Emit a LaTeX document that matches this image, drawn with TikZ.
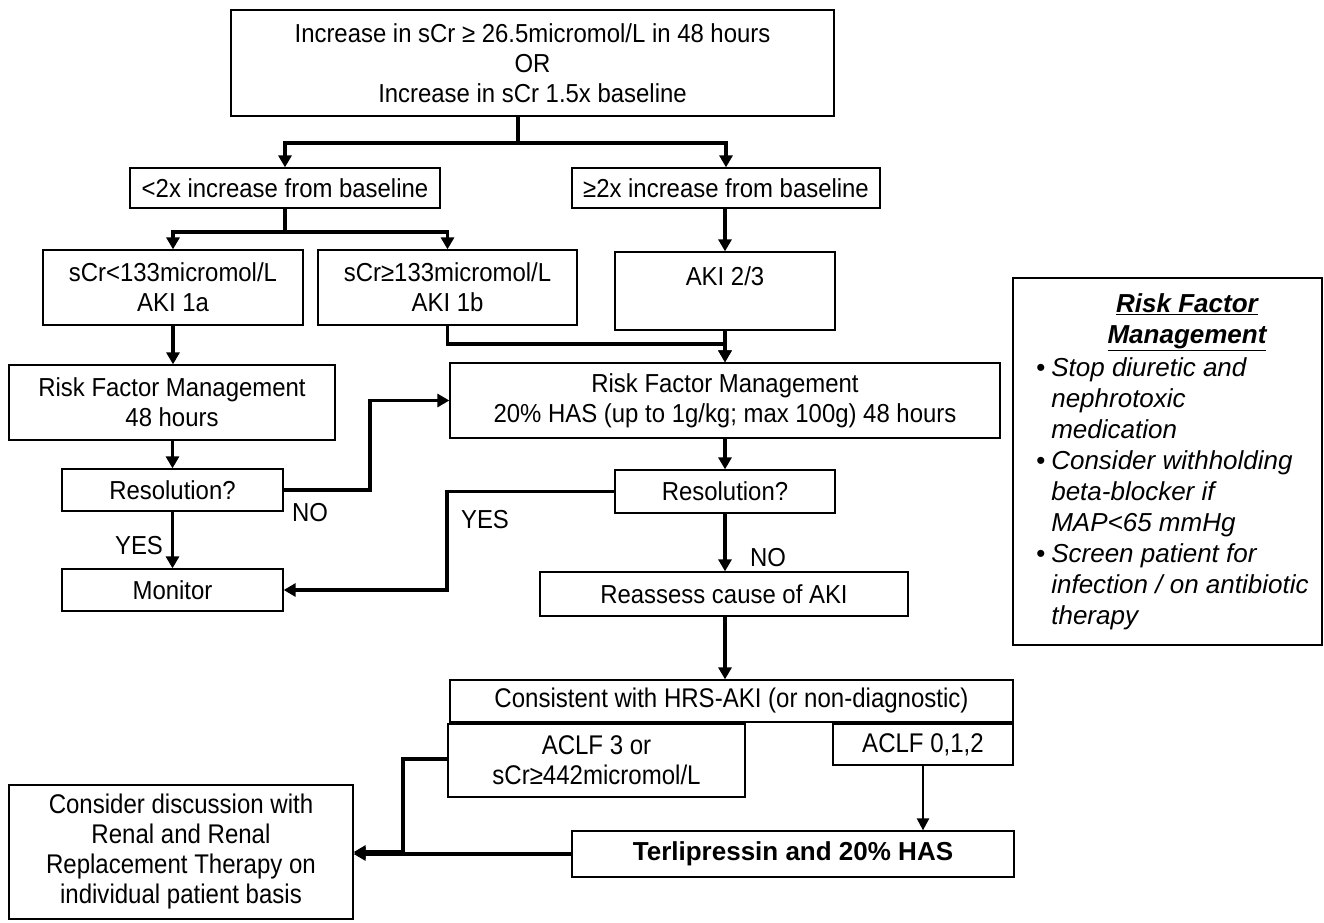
\documentclass[tikz,border=0pt]{standalone}
\usepackage{fontspec}
\setmainfont{Liberation Sans}
\newfontfamily\condf[FakeStretch=0.92]{Liberation Sans}
\newfontfamily\narrowf[FakeStretch=0.89]{Liberation Sans}
\usetikzlibrary{arrows.meta}
\begin{document}
\begin{tikzpicture}[x=1pt,y=-1pt,
 box/.style={draw, line width=1.3pt, inner sep=0pt, align=center, font=\condf\fontsize{26}{30}\selectfont},
 lowbox/.style={box, font=\narrowf\fontsize{27}{30}\selectfont},
 conn/.style={line width=3.5pt},
 arr/.style={line width=3.5pt, -{Triangle[length=12pt,width=13pt]}},
 thinarr/.style={line width=2.5pt, -{Triangle[length=12pt,width=12pt]}},
 lbl/.style={font=\condf\fontsize{26}{30}\selectfont, inner sep=0pt}]
\useasboundingbox (0,0) rectangle (1324,922);

\node[box, minimum width=603, minimum height=106] (top) at (532.5,63) {Increase in sCr ≥ 26.5micromol/L in 48 hours\\OR\\Increase in sCr 1.5x baseline};
\node[box, minimum width=310, minimum height=40] (lt2) at (285,188) {<2x increase from baseline};
\node[box, minimum width=308, minimum height=40] (ge2) at (726,188) {≥2x increase from baseline};
\node[box, minimum width=260, minimum height=75] (aki1a) at (173,287.5) {sCr<133micromol/L\\AKI 1a};
\node[box, minimum width=259, minimum height=75] (aki1b) at (447.5,287.5) {sCr≥133micromol/L\\AKI 1b};
\node[box, minimum width=220, minimum height=78] (aki23) at (725,291) {AKI 2/3\\~};
\node[box, minimum width=326, minimum height=75] (rfm1) at (172,402.5) {Risk Factor Management\\48 hours};
\node[box, minimum width=550, minimum height=75] (rfm2) at (725,400.5) {Risk Factor Management\\20\% HAS (up to 1g/kg; max 100g) 48 hours};
\node[box, minimum width=221, minimum height=42] (res1) at (172.5,490) {Resolution?};
\node[box, minimum width=221, minimum height=42] (mon) at (172.5,590) {Monitor};
\node[box, minimum width=220, minimum height=43] (res2) at (725,491.5) {Resolution?};
\node[box, minimum width=368, minimum height=44] (reas) at (724,594) {Reassess cause of AKI};
\node[lowbox, minimum width=563, minimum height=42] (hrs) at (731.5,701) {Consistent with HRS-AKI (or non-diagnostic)};
\node[lowbox, minimum width=297, minimum height=73] (aclf3) at (596.5,760.5) {ACLF 3 or\\sCr≥442micromol/L};
\node[lowbox, minimum width=180, minimum height=41] (aclf012) at (923,744.5) {ACLF 0,1,2};
\node[lowbox, minimum width=344, minimum height=134] (cons) at (181,852) {Consider discussion with\\Renal and Renal\\Replacement Therapy on\\individual patient basis};
\node[box, minimum width=442, minimum height=46, font=\rmfamily\fontsize{26}{30}\selectfont\bfseries] (terl) at (793,854) {Terlipressin and 20\% HAS};

\node[box, minimum width=309, minimum height=367] (rfbox) at (1167.5,461.5) {};
\node[font=\rmfamily\fontsize{26}{31}\selectfont\bfseries\itshape, align=center, inner sep=0pt] (rftitle) at (1187,322) {\underline{Risk Factor}\\\underline{Management}};
\node[font=\rmfamily\fontsize{26}{31}\selectfont\itshape, anchor=north west, inner sep=0pt] (rfbody) at (1036,355) {\begin{tabular}{@{}l@{\hspace{6pt}}l@{}}
\textbullet & Stop diuretic and\\
 & nephrotoxic\\
 & medication\\
\textbullet & Consider withholding\\
 & beta-blocker if\\
 & MAP<65 mmHg\\
\textbullet & Screen patient for\\
 & infection / on antibiotic\\
 & therapy
\end{tabular}};

\coordinate (j1) at (518,143);
\coordinate (j2) at (285,232);
\coordinate (j3) at (725,344);
\coordinate (c1) at (370,490);
\coordinate (c2) at (447,491.5);
\coordinate (c3) at (403,759);

\draw[conn] (j1 |- top.south) -- (j1);
\draw[arr] (j1) -| (lt2.north);
\draw[arr] (j1) -| (ge2.north);
\draw[conn] (lt2.south) -- (j2);
\draw[arr] (j2) -| (aki1a.north);
\draw[arr] (j2) -| (aki1b.north);
\draw[arr] (ge2.south -| aki23.north) -- (aki23.north);
\draw[arr] (aki1a.south) -- (aki1a.south |- rfm1.north);
\draw[arr] (aki1b.south) |- (j3) -- (rfm2.north);
\draw[arr] (aki23.south) -- (rfm2.north);
\draw[arr] (rfm1.south -| res1.north) -- (res1.north);
\draw[arr] (res1.east) -- (c1) |- (rfm2.west);
\draw[arr] (res1.south) -- (mon.north);
\draw[arr] (rfm2.south) -- (res2.north);
\draw[arr] (res2.west) -- (c2) |- (mon.east);
\draw[arr] (res2.south) -- (res2.south |- reas.north);
\draw[arr] (res2.south |- reas.south) -- (res2.south |- hrs.north);
\draw[arr] (aclf3.west |- c3) -- (c3) |- (cons.east);
\draw[arr] (terl.west) -- (terl.west -| cons.east);
\draw[thinarr] (aclf012.south) -- (aclf012.south |- terl.north);

\node[lbl] (no1) at (310,513) {NO};
\node[lbl] (yes1) at (139,546) {YES};
\node[lbl] (yes2) at (485,520) {YES};
\node[lbl] (no2) at (768,558) {NO};
\end{tikzpicture}
\end{document}
